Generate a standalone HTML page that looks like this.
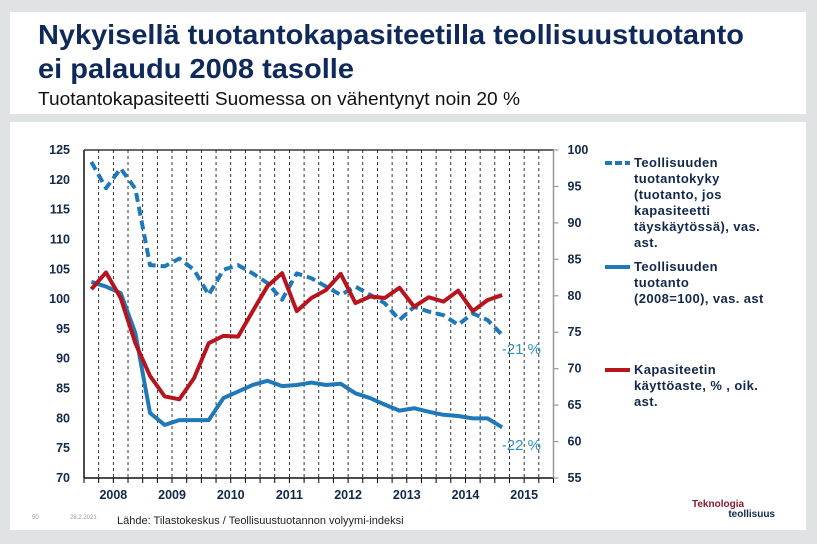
<!DOCTYPE html>
<html><head><meta charset="utf-8"><style>
html,body{margin:0;padding:0;background:#dfe3e3;}
svg{display:block;font-family:"Liberation Sans",Arial,sans-serif;}
</style></head><body>
<svg id="chart" width="817" height="544" viewBox="0 0 817 544" xmlns="http://www.w3.org/2000/svg">
<rect x="0" y="0" width="817" height="544" fill="#dfe3e3"/>
<rect x="10" y="12" width="796" height="102" fill="#ffffff"/>
<rect x="10" y="122" width="796" height="408" fill="#ffffff"/>
<text x="38" y="44" font-size="28" font-weight="bold" fill="#0f2a5a" textLength="706" lengthAdjust="spacingAndGlyphs">Nykyisellä tuotantokapasiteetilla teollisuustuotanto</text>
<text x="38" y="78" font-size="28" font-weight="bold" fill="#0f2a5a" textLength="316" lengthAdjust="spacingAndGlyphs">ei palaudu 2008 tasolle</text>
<text x="38" y="105" font-size="18" fill="#111" textLength="482" lengthAdjust="spacingAndGlyphs">Tuotantokapasiteetti Suomessa on vähentynyt noin 20 %</text>
<g id="plot"></g>
<g font-size="13" font-weight="bold" fill="#13294b" letter-spacing="0.4">
 <g>
  <line x1="605" y1="163" x2="630" y2="163" stroke="#1f78b8" stroke-width="4" stroke-dasharray="7,3"/>
  <text x="634" y="167">Teollisuuden</text><text x="634" y="183">tuotantokyky</text><text x="634" y="199">(tuotanto, jos</text><text x="634" y="215">kapasiteetti</text><text x="634" y="231">täyskäytössä), vas.</text><text x="634" y="247">ast.</text>
 </g>
 <g>
  <line x1="605" y1="267" x2="630" y2="267" stroke="#1f78b8" stroke-width="4"/>
  <text x="634" y="271">Teollisuuden</text><text x="634" y="287">tuotanto</text><text x="634" y="303">(2008=100), vas. ast</text>
 </g>
 <g>
  <line x1="605" y1="370" x2="630" y2="370" stroke="#b8141e" stroke-width="4"/>
  <text x="634" y="374">Kapasiteetin</text><text x="634" y="390">käyttöaste, % , oik.</text><text x="634" y="406">ast.</text>
 </g>
</g>
<text x="32" y="519" font-size="6" fill="#999">50</text>
<text x="70" y="519" font-size="6" fill="#999">28.2.2021</text>
<text x="117" y="524" font-size="11" fill="#222">Lähde: Tilastokeskus / Teollisuustuotannon volyymi-indeksi</text>
<text x="692" y="507" font-size="10" font-weight="bold" fill="#8a1a2e">Teknologia</text>
<text x="775" y="517" font-size="10" font-weight="bold" fill="#13294b" text-anchor="end">teollisuus</text>
</svg>
<script>
const years = ["2008","2009","2010","2011","2012","2013","2014","2015"];
const leftTicks = [125,120,115,110,105,100,95,90,85,80,75,70];
const rightTicks = [100,95,90,85,80,75,70,65,60,55];
const capacity = [123.0,118.6,121.9,118.5,105.7,105.5,106.8,104.9,100.7,104.9,105.7,104.3,102.7,99.9,104.3,103.5,102.1,100.7,102.1,100.7,99.3,96.5,98.7,97.9,97.3,95.7,97.6,96.5,94.0];
const production = [102.9,102.1,101.0,94.3,80.9,78.9,79.7,79.7,79.7,83.4,84.5,85.6,86.3,85.4,85.6,86.0,85.6,85.8,84.2,83.4,82.3,81.3,81.7,81.1,80.6,80.4,80.0,80.0,78.5];
const utilization = [80.9,83.2,79.7,73.5,69.0,66.2,65.8,68.7,73.5,74.5,74.4,77.9,81.3,83.1,77.9,79.7,80.8,83.0,79.0,79.9,79.7,81.1,78.5,79.8,79.2,80.7,77.9,79.4,80.1];

const NS="http://www.w3.org/2000/svg";
const g=document.getElementById('plot');
const L=84, R=553.5, T=150, B=478, slots=32, w=(R-L)/slots;
const xq=i=>L+w*(i+0.5);
const yL=v=>T+(125-v)*(B-T)/55;
const yR=v=>T+(100-v)*(B-T)/45;
function mk(tag,attrs){const e=document.createElementNS(NS,tag);for(const k in attrs)e.setAttribute(k,attrs[k]);g.appendChild(e);return e;}
for(let k=1;k<slots;k++){
 const l=mk('line',{x1:L+w*k,y1:T,x2:L+w*k,y2:B,stroke:'#000','stroke-width':0.8,'stroke-dasharray':'3,3'});
 
 
}
for(let k=0;k<=slots;k++){
 const t=mk('line',{x1:L+w*k,y1:B,x2:L+w*k,y2:B+5,stroke:'#000','stroke-width':1});
 
 
}
let a=mk('line',{x1:L,y1:T,x2:R,y2:T,stroke:'#111','stroke-width':1.2});


a=mk('line',{x1:L,y1:T,x2:L,y2:B,stroke:'#111','stroke-width':1.5});


a=mk('line',{x1:L,y1:B,x2:R,y2:B,stroke:'#111','stroke-width':1.5});


a=mk('line',{x1:R,y1:T,x2:R,y2:B,stroke:'#999','stroke-width':1.5});


leftTicks.forEach(v=>{
 const t=mk('text',{x:L-14,y:yL(v)+4,'font-size':12.5,'font-weight':'bold',fill:'#13294b','text-anchor':'end'});
 t.textContent=v;
 
 
});
rightTicks.forEach(v=>{
 const tk=mk('line',{x1:R,y1:yR(v),x2:R+5,y2:yR(v),stroke:'#999','stroke-width':1.2});
 
 
 const t=mk('text',{x:R+14,y:yR(v)+4,'font-size':12.5,'font-weight':'bold',fill:'#13294b'});
 t.textContent=v;
 
 
});
years.forEach((y,k)=>{
 const t=mk('text',{x:L+w*(4*k+2),y:B+21,'font-size':12.5,'font-weight':'bold',fill:'#13294b','text-anchor':'middle'});
 t.textContent=y;
 
 
});
function series(data,yf,color,dash,name){
 const p=mk('polyline',{points:data.map((v,i)=>xq(i)+','+yf(v)).join(' '),fill:'none',stroke:color,'stroke-width':4,'stroke-linejoin':'round'});
 if(dash)p.setAttribute('stroke-dasharray',dash);
 
 
}
series(production,yL,'#1f78b8',null,'production-line');
series(capacity,yL,'#1f78b8','9,5','capacity-line');
series(utilization,yR,'#b8141e',null,'utilization-line');
let t=mk('text',{x:541,y:354,'font-size':15,fill:'#2f8fc4','text-anchor':'end'});
t.textContent='-21 %';


t=mk('text',{x:541,y:450,'font-size':15,fill:'#2f8fc4','text-anchor':'end'});
t.textContent='-22 %';


</script>
</body></html>
